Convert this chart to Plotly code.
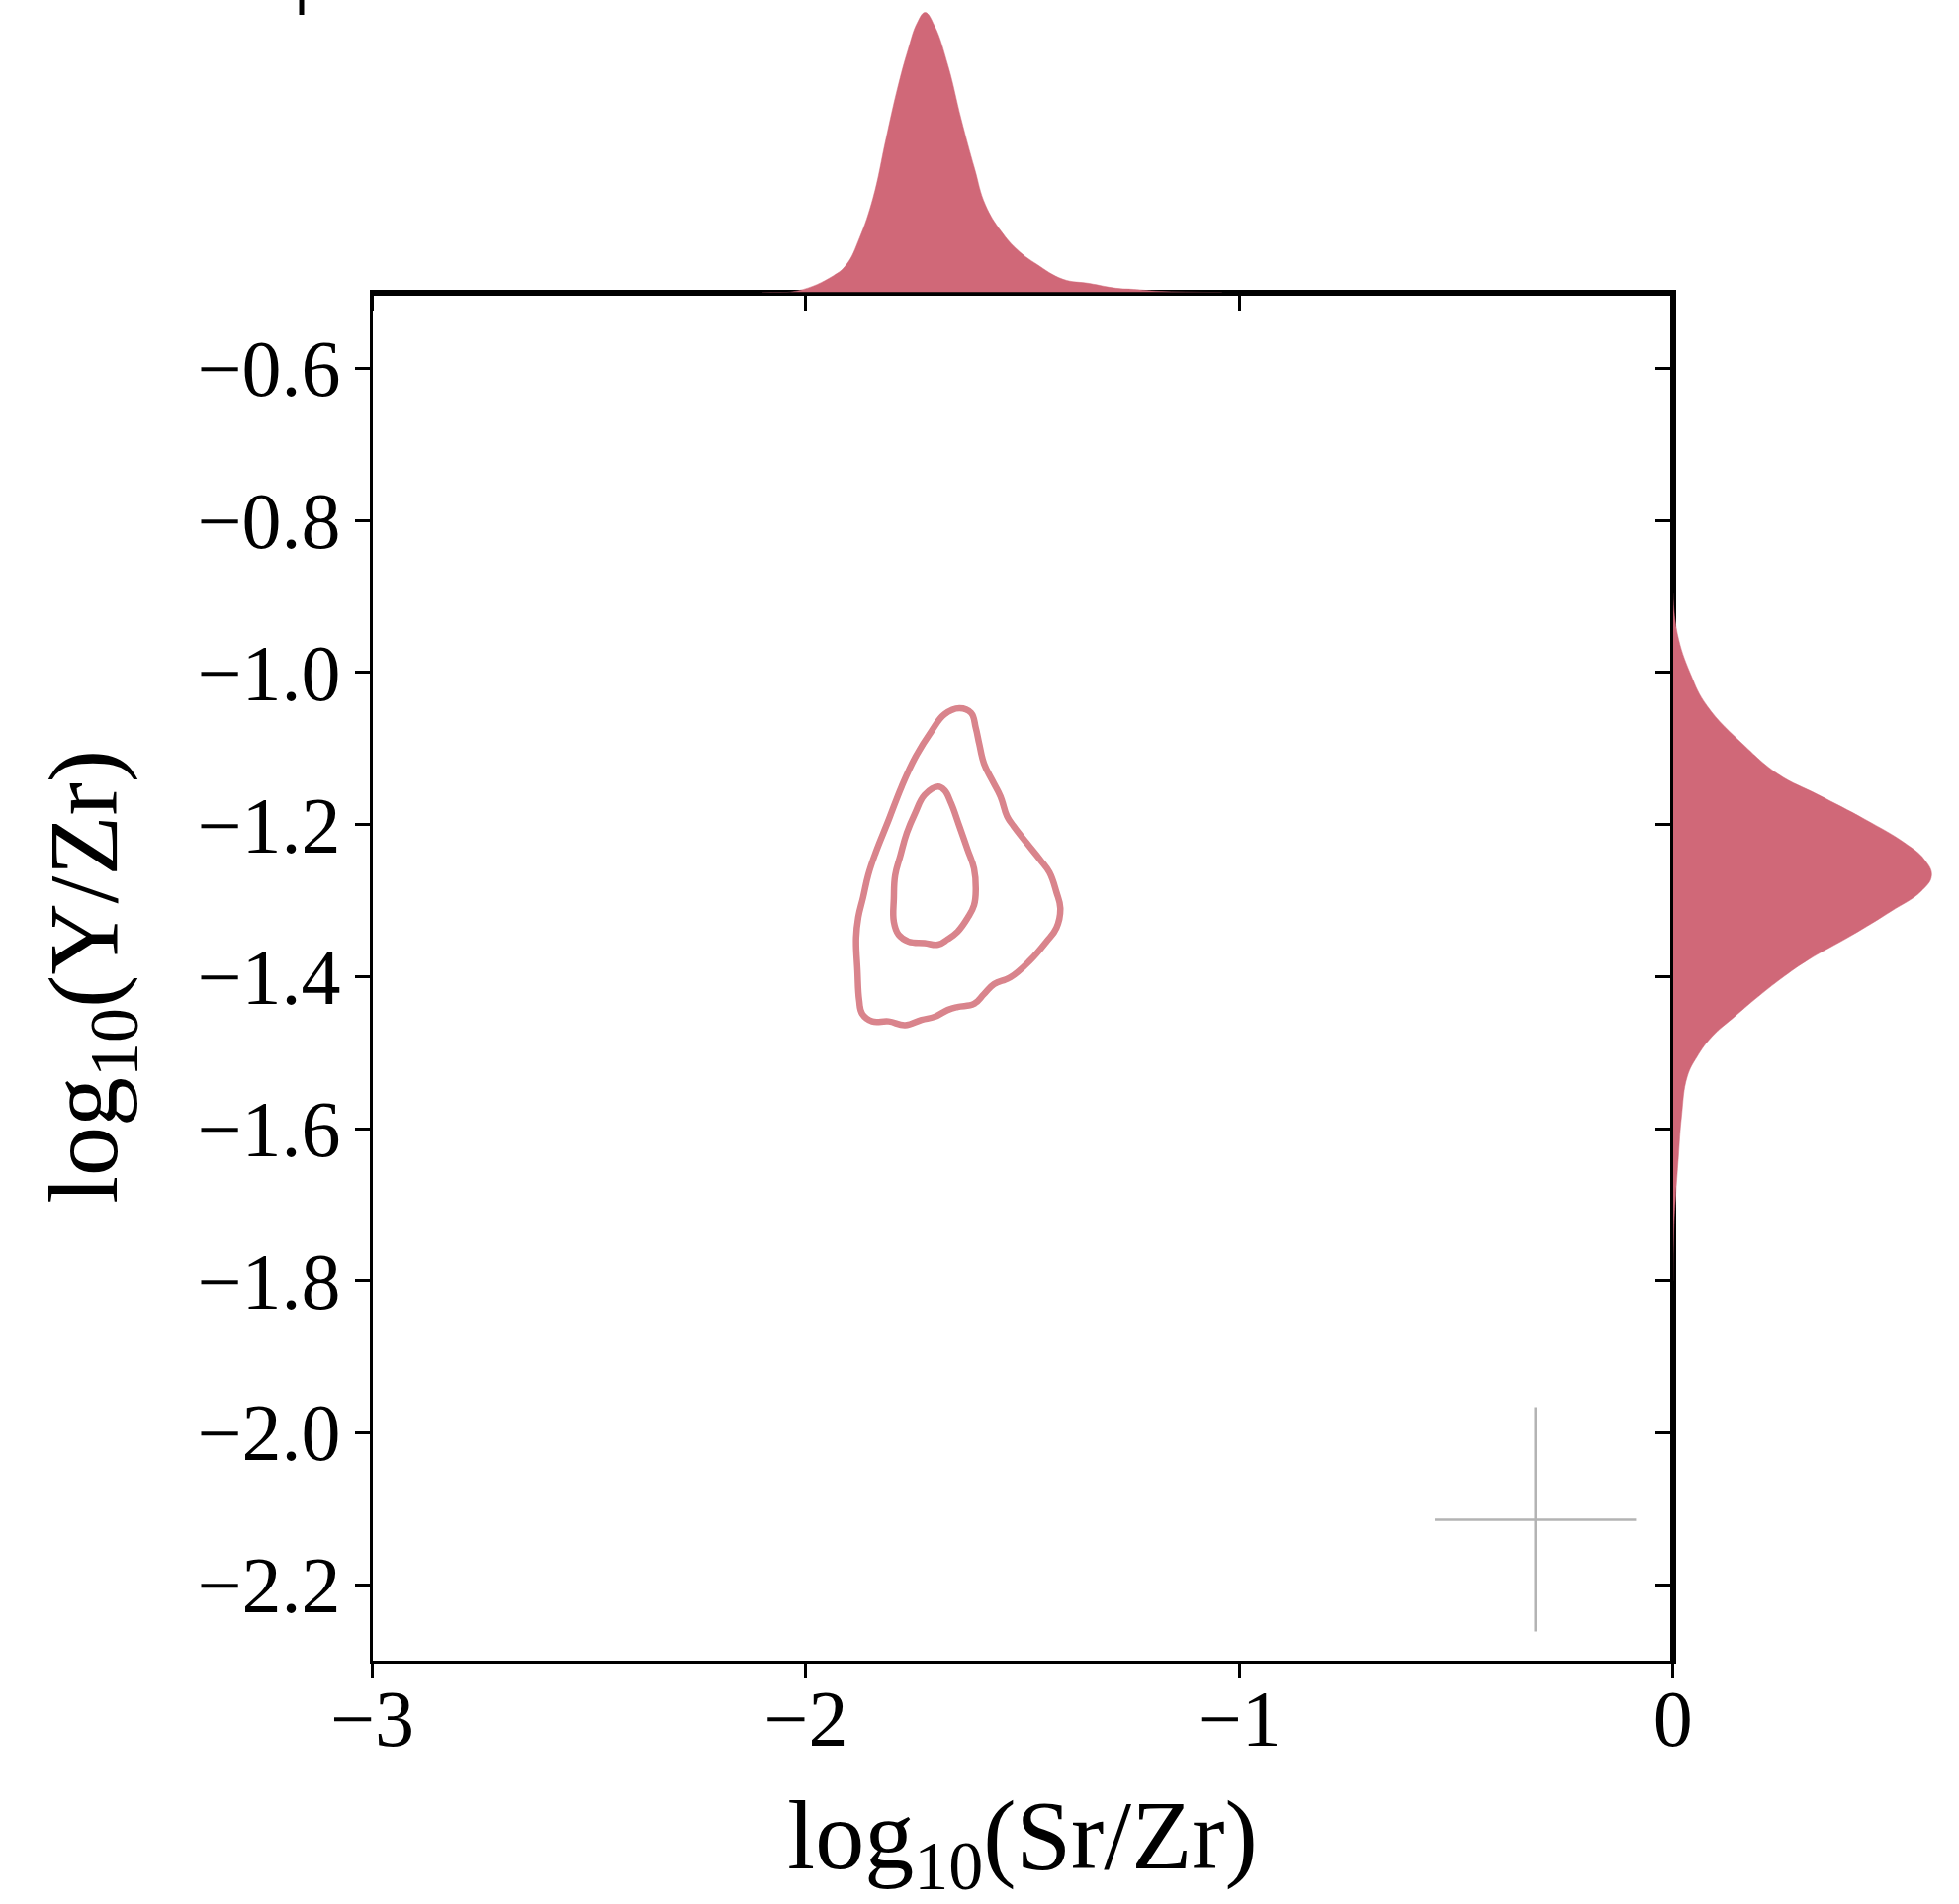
import plotly.graph_objects as go

# ---------------- data ----------------
# top marginal density of log10(Sr/Zr) (relative units, peak = 1)
top_x = [-2.10, -2.018, -1.937, -1.906, -1.876, -1.845, -1.815, -1.789, -1.764, -1.743,
         -1.725, -1.703, -1.672, -1.642, -1.611, -1.586, -1.550, -1.509, -1.468, -1.407,
         -1.346, -1.285, -1.244, -1.183, -1.04]
top_density = [0.0, 0.006, 0.059, 0.100, 0.195, 0.337, 0.549, 0.726, 0.868, 0.963,
               1.0, 0.951, 0.809, 0.620, 0.443, 0.313, 0.219, 0.148, 0.101, 0.047,
               0.032, 0.015, 0.011, 0.004, 0.0]

# right marginal density of log10(Y/Zr)
right_y = [-0.896, -0.949, -1.002, -1.044, -1.097, -1.134, -1.161, -1.193, -1.224, -1.246,
           -1.267, -1.288, -1.314, -1.346, -1.378, -1.399, -1.426, -1.452, -1.479, -1.505,
           -1.532, -1.585, -1.638, -1.691, -1.727, -1.80]
right_density = [0.0, 0.017, 0.068, 0.132, 0.279, 0.408, 0.562, 0.741, 0.895, 0.972,
                 1.0, 0.959, 0.844, 0.690, 0.523, 0.433, 0.331, 0.241, 0.151, 0.094,
                 0.055, 0.033, 0.021, 0.010, 0.004, 0.0]

# KDE contour levels (outer and inner)
outer_x = [-1.646, -1.619, -1.608, -1.600, -1.589, -1.570, -1.551, -1.536, -1.521, -1.491,
           -1.460, -1.438, -1.422, -1.413, -1.422, -1.445, -1.483, -1.528, -1.566, -1.589,
           -1.612, -1.650, -1.673, -1.703, -1.733, -1.771, -1.809, -1.847, -1.870, -1.877,
           -1.881, -1.884, -1.879, -1.868, -1.856, -1.839, -1.809, -1.779, -1.748, -1.710,
           -1.680, -1.646]
outer_y = [-1.047, -1.053, -1.073, -1.094, -1.120, -1.142, -1.163, -1.189, -1.202, -1.224,
           -1.246, -1.263, -1.289, -1.310, -1.336, -1.354, -1.379, -1.401, -1.410, -1.423,
           -1.436, -1.440, -1.444, -1.453, -1.457, -1.464, -1.459, -1.459, -1.449, -1.431,
           -1.392, -1.349, -1.322, -1.296, -1.266, -1.237, -1.194, -1.150, -1.112, -1.077,
           -1.055, -1.047]
inner_x = [-1.695, -1.680, -1.665, -1.646, -1.627, -1.612, -1.608, -1.612, -1.627, -1.650,
           -1.673, -1.695, -1.726, -1.763, -1.786, -1.797, -1.797, -1.794, -1.782, -1.767,
           -1.748, -1.726, -1.695]
inner_y = [-1.150, -1.155, -1.172, -1.202, -1.233, -1.258, -1.284, -1.306, -1.323, -1.341,
           -1.351, -1.358, -1.356, -1.354, -1.345, -1.328, -1.297, -1.267, -1.241, -1.211,
           -1.185, -1.161, -1.150]

# typical uncertainty cross
err_center_x = [-0.317]
err_center_y = [-2.1146]
err_half_x = [0.232]
err_half_y = [0.147]

x_ticks = [-3, -2, -1, 0]
x_ticktext = ["\u22123", "\u22122", "\u22121", "0"]
y_ticks = [-0.6, -0.8, -1.0, -1.2, -1.4, -1.6, -1.8, -2.0, -2.2]
y_ticktext = ["\u22120.6", "\u22120.8", "\u22121.0", "\u22121.2", "\u22121.4",
              "\u22121.6", "\u22121.8", "\u22122.0", "\u22122.2"]

# ---------------- styling ----------------
W, H = 1981, 1925
FILL = "#D06878"
LINE = "#D9848C"
FONT = "Liberation Serif"

main_x_dom = [376.5 / W, 1691.7 / W]
main_y_dom = [1 - 1679.0 / H, 1 - 295.6 / H]

fig = go.Figure()

for cx, cy in ((outer_x, outer_y), (inner_x, inner_y)):
    fig.add_trace(go.Scatter(x=cx, y=cy, mode="lines",
                             line=dict(color=LINE, width=6.5, shape="spline", smoothing=1.2),
                             xaxis="x", yaxis="y", showlegend=False, hoverinfo="skip"))
fig.add_trace(go.Scatter(x=err_center_x, y=err_center_y, mode="markers",
                         marker=dict(size=1, color="rgba(0,0,0,0)"),
                         error_x=dict(type="data", array=err_half_x, width=0,
                                      thickness=2.5, color="#B3B3B3"),
                         error_y=dict(type="data", array=err_half_y, width=0,
                                      thickness=2.5, color="#B3B3B3"),
                         xaxis="x", yaxis="y", showlegend=False, hoverinfo="skip"))

fig.add_trace(go.Scatter(x=top_x, y=top_density, mode="lines", fill="tozeroy",
                         fillcolor=FILL,
                         line=dict(color=FILL, width=0.5, shape="spline", smoothing=1.2),
                         xaxis="x2", yaxis="y2", showlegend=False, hoverinfo="skip"))
fig.add_trace(go.Scatter(x=right_density, y=right_y, mode="lines", fill="tozerox",
                         fillcolor=FILL,
                         line=dict(color=FILL, width=0.5, shape="spline", smoothing=1.2),
                         xaxis="x3", yaxis="y3", showlegend=False, hoverinfo="skip"))

axis_common = dict(showgrid=False, zeroline=False, showline=True, linecolor="black",
                   linewidth=3, ticks="outside", ticklen=15, tickwidth=3, tickcolor="black",
                   automargin=False)

fig.update_layout(
    width=W, height=H,
    margin=dict(l=0, r=0, t=0, b=0, autoexpand=False),
    paper_bgcolor="white", plot_bgcolor="white",
    font=dict(family=FONT, color="black"),
    xaxis=dict(domain=main_x_dom, range=[-3, 0], anchor="y", mirror=True,
               tickmode="array", tickvals=x_ticks, ticktext=x_ticktext,
               tickfont=dict(size=80, family=FONT), ticklabelstandoff=-28,
               title=dict(text="log<sub>10</sub>(Sr/Zr)", font=dict(size=100, family=FONT),
                          standoff=102),
               **axis_common),
    yaxis=dict(domain=main_y_dom, range=[-2.3, -0.5], anchor="x", mirror=True,
               tickmode="array", tickvals=y_ticks, ticktext=y_ticktext,
               tickfont=dict(size=80, family=FONT), ticklabelstandoff=-2,
               title=dict(text="log<sub>10</sub>(Y/Zr)", font=dict(size=100, family=FONT),
                          standoff=48),
               **axis_common),
    xaxis2=dict(domain=main_x_dom, range=[-3, 0], anchor="y2", side="bottom",
                tickmode="array", tickvals=x_ticks, showticklabels=False,
                **axis_common),
    yaxis2=dict(domain=[main_y_dom[1], 1.0], range=[0, 1.0445], anchor="x2",
                visible=False),
    xaxis3=dict(domain=[main_x_dom[1], 1.0], range=[0, 1.106], anchor="y3",
                visible=False),
    yaxis3=dict(domain=main_y_dom, range=[-2.3, -0.5], anchor="x3", side="left",
                tickmode="array", tickvals=y_ticks, showticklabels=False,
                **axis_common),
    shapes=[dict(type="line", xref="paper", yref="paper",
                 x0=305 / W, x1=305 / W, y0=1.0, y1=1 - 15 / H,
                 line=dict(color="black", width=5))],
)

fig.write_html("out.html", config={"displayModeBar": False},
               post_script="document.body.style.margin='0';")
